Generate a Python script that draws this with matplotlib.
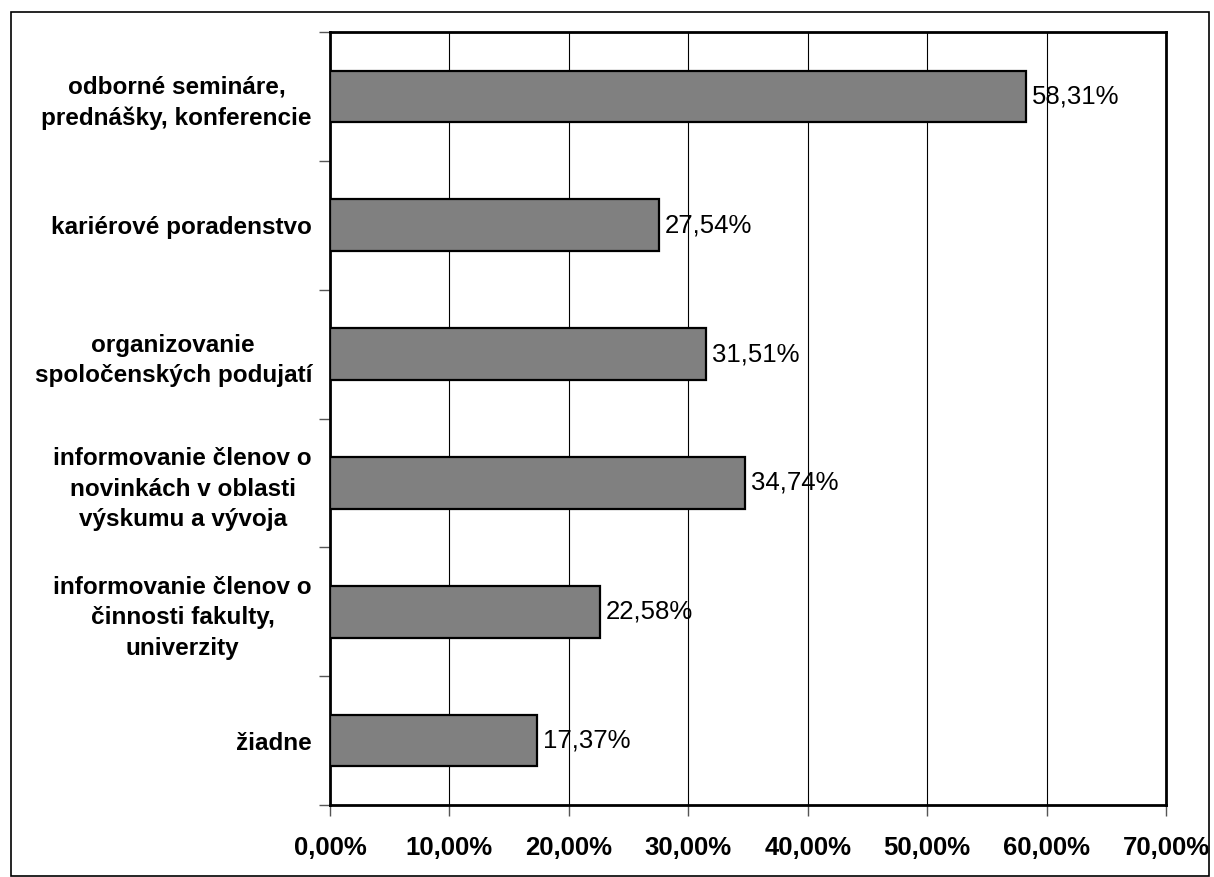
import matplotlib.pyplot as plt
import numpy as np
from matplotlib.patches import Rectangle
from matplotlib.ticker import FixedLocator

categories = [
    'odborné semináre,\nprednášky, konferencie',
    'kariérové poradenstvo',
    'organizovanie\nspoločenských podujatí',
    'informovanie členov o\nnovinkách v oblasti\nvýskumu a vývoja',
    'informovanie členov o\nčinnosti fakulty,\nuniverzity',
    'žiadne',
]
values = [58.31, 27.54, 31.51, 34.74, 22.58, 17.37]
x_ticks = [0, 10, 20, 30, 40, 50, 60, 70]

plt.rcParams['font.family'] = ['Liberation Sans', 'DejaVu Sans']

fig = plt.figure(figsize=(12.14, 8.77), dpi=100)
ax = fig.add_axes([330 / 1214, 1 - 805 / 877, 836 / 1214, 773 / 877])

# outer frame round the whole chart
fig.patches.append(Rectangle((11 / 1214, 1 / 877), 1198 / 1214, 864 / 877,
                             transform=fig.transFigure, fill=False,
                             edgecolor='black', linewidth=1.2))

y = np.arange(len(categories))
ax.barh(y, values, height=0.4, color='#808080', edgecolor='black',
        linewidth=1.6, zorder=3)

for yi, v in zip(y, values):
    ax.text(v + 0.5, yi, f'{v:.2f}%'.replace('.', ','), va='center',
            ha='left', fontsize=18.5, zorder=4)

ax.set_xlim(0, 70)
ax.set_ylim(len(categories) - 0.5, -0.5)
ax.set_xticks(x_ticks)
ax.set_xticklabels([f'{t:.2f}%'.replace('.', ',') for t in x_ticks],
                   fontsize=18.5, fontweight='bold')
ax.set_yticks(y)
ax.set_yticklabels(categories, fontsize=17.5, fontweight='bold')
plt.setp(ax.get_yticklabels(), multialignment='center', linespacing=1.4)
ax.yaxis.set_minor_locator(FixedLocator(np.arange(-0.5, len(categories), 1)))
ax.tick_params(axis='y', which='major', length=0, pad=13)
ax.tick_params(axis='y', which='minor', length=8, width=1, color='#555555')
ax.tick_params(axis='x', length=8, width=1, pad=14, color='#555555')

ax.grid(axis='x', color='black', linewidth=0.8, zorder=0)
for s in ax.spines.values():
    s.set_linewidth(2)

fig.savefig('out.png', dpi=100)
